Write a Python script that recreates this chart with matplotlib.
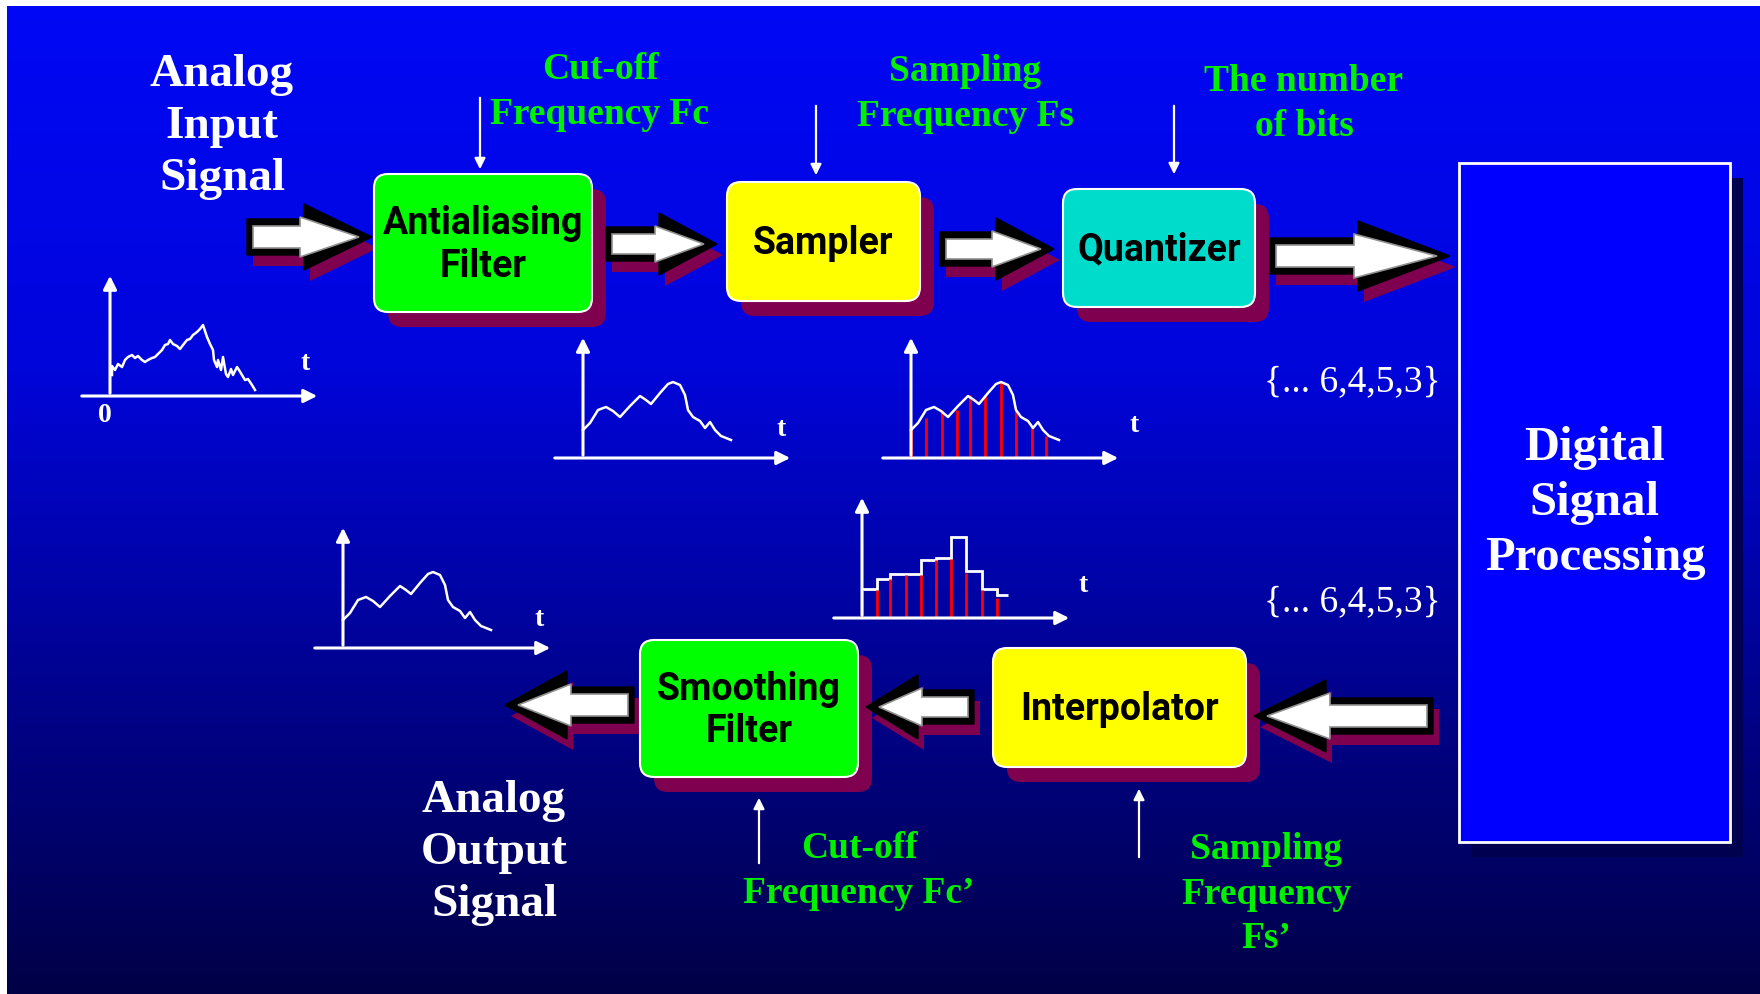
import matplotlib
matplotlib.use("Agg")
import matplotlib.pyplot as plt
from matplotlib.patches import FancyBboxPatch, Polygon, Rectangle
import numpy as np

W, H = 1760, 994

# ---- data (t, amplitude above the time axis) ----
noisy_t = [2, 2, 5, 8, 12, 15, 18, 22, 25, 28, 32, 35, 38, 42, 45, 48, 52, 55, 58, 60,
           63, 67, 70, 73, 77, 80, 83, 87, 90, 93, 97, 100, 103, 104, 107, 108, 111, 113,
           116, 118, 121, 123, 127, 129, 132, 135, 138, 142, 145]
noisy_v = [21, 30, 26, 32, 29, 36, 39, 41, 38, 40, 36, 34, 36, 38, 39, 42, 46, 51, 52, 56,
           52, 50, 47, 51, 56, 57, 61, 64, 67, 71, 59, 52, 46, 36, 29, 36, 26, 39,
           22, 19, 27, 21, 29, 26, 21, 16, 17, 11, 6]

smooth_t = [0, 7, 15, 23, 30, 37, 47, 57, 63, 68, 77, 85, 90, 97, 102, 105, 110, 117,
            122, 127, 132, 138, 148]
smooth_v = [28, 35, 48, 51, 47, 41, 52, 62, 58, 54, 65, 74, 76, 73, 63, 48, 41, 37,
            30, 36, 28, 22, 18]

sample_t = [0, 15, 31, 46, 59, 74, 90, 105, 121, 135]
sample_v = [29, 40, 48, 48, 63, 63, 76, 48, 32, 22]

hold_edges = [0, 15, 28, 44, 59, 74, 89, 104, 120, 135, 146]
hold_levels = [29, 39, 44, 44, 58, 60, 81, 47, 29, 23]
hold_stem_t = [0, 15, 28, 44, 59, 74, 89, 104, 120, 135]
hold_stem_v = [28, 28, 39, 43, 43, 58, 59, 45, 28, 20]

digits = "{... 6,4,5,3}"

SERIF = "Liberation Serif"
BOXFONT = "Roboto"
GREEN = "#00f000"
MAROON = "#800050"

fig = plt.figure(figsize=(17.6, 9.94), dpi=100)
ax = fig.add_axes([0, 0, 1, 1])
ax.set_xlim(0, W)
ax.set_ylim(H, 0)
ax.axis("off")

# background gradient (bright blue at top -> navy at bottom)
rows = np.arange(H)
blue = np.interp(rows, [0, 350, 650, 994], [245, 220, 150, 70]) / 255
grad = np.zeros((H, 1, 3))
grad[:, 0, 2] = blue
grad[:, 0, 1] = np.interp(rows, [0, 994], [8, 0]) / 255
ax.imshow(grad, extent=(7, W, H, 6), aspect="auto", origin="upper", zorder=0)


def box(x0, y0, x1, y1, color, label):
    sh = FancyBboxPatch((x0 + 14, y0 + 15), x1 - x0, y1 - y0,
                        boxstyle="round,pad=0,rounding_size=14",
                        fc=MAROON, ec="none", zorder=2)
    ax.add_patch(sh)
    b = FancyBboxPatch((x0, y0), x1 - x0, y1 - y0,
                       boxstyle="round,pad=0,rounding_size=14",
                       fc=color, ec="white", lw=1.5, zorder=4)
    ax.add_patch(b)
    ax.text((x0 + x1) / 2, (y0 + y1) / 2 + 2, label, ha="center", va="center",
            fontsize=27, fontweight="bold", family=BOXFONT, color="black",
            linespacing=1.2, zorder=5)


def arrow_pts(tail, tip, y, hl, sh, hh):
    d = 1 if tip > tail else -1
    base = tip - d * hl
    return [(tail, y - sh), (base, y - sh), (base, y - hh), (tip, y),
            (base, y + hh), (base, y + sh), (tail, y + sh)]


def block_arrow(tail, tip, y, hl=62, sh=18, hh=33):
    d = 1 if tip > tail else -1
    ax.add_patch(Polygon([(px + 6, py + 11) for px, py in arrow_pts(tail, tip, y, hl, sh, hh)],
                         closed=True, fc=MAROON, ec="none", zorder=3))
    ax.add_patch(Polygon(arrow_pts(tail, tip, y, hl, sh, hh), closed=True,
                         fc="black", ec="black", lw=1, zorder=6))
    ax.add_patch(Polygon(arrow_pts(tail + d * 6, tip - d * 13, y, hl - 9, sh - 7, hh - 13),
                         closed=True, fc="white", ec="#909090", lw=1.2, zorder=7))


def thin_arrow(x, y_from, y_to):
    ax.annotate("", xy=(x, y_to), xytext=(x, y_from),
                arrowprops=dict(arrowstyle="-|>", color="white", lw=1.6,
                                mutation_scale=16), zorder=5)


# processing blocks
box(374, 174, 592, 312, "#00ff00", "Antialiasing\nFilter")
box(727, 182, 920, 301, "#ffff00", "Sampler")
box(1063, 189, 1255, 307, "#00dccb", "Quantizer")
box(993, 648, 1246, 767, "#ffff00", "Interpolator")
box(640, 640, 858, 777, "#00ff00", "Smoothing\nFilter")

# DSP block
ax.add_patch(Rectangle((1472, 178), 271, 679, fc="#000050", ec="none", zorder=2))
ax.add_patch(Rectangle((1459, 163), 271, 679, fc="#0000ff", ec="white", lw=2, zorder=4))
ax.text(1595, 503, "Digital\nSignal\nProcessing", ha="center", va="center",
        fontsize=35, fontweight="bold", family=SERIF, color="white",
        linespacing=1.33, zorder=5)

# flow arrows
block_arrow(247, 372, 237, hl=68, sh=18, hh=33)
block_arrow(606, 717, 244, hl=58, sh=17, hh=31)
block_arrow(940, 1054, 249, hl=58, sh=17, hh=31)
block_arrow(1270, 1450, 256, hl=92, sh=18, hh=35)
block_arrow(1433, 1254, 716, hl=72, sh=18, hh=36)
block_arrow(974, 866, 707, hl=52, sh=17, hh=32)
block_arrow(634, 505, 705, hl=62, sh=18, hh=34)

# parameter arrows
thin_arrow(480, 95, 172)
thin_arrow(816, 103, 178)
thin_arrow(1174, 103, 177)
thin_arrow(759, 866, 795)
thin_arrow(1139, 860, 786)

# labels
ax.text(222, 127, "Analog\nInput\nSignal", ha="center", va="center", fontsize=34,
        fontweight="bold", family=SERIF, color="white", linespacing=1.3)
ax.text(494, 853, "Analog\nOutput\nSignal", ha="center", va="center", fontsize=34,
        fontweight="bold", family=SERIF, color="white", linespacing=1.3)

gkw = dict(ha="center", va="center", fontsize=27, fontweight="bold", family=SERIF,
           color=GREEN, linespacing=1.35)
ax.text(600, 92, "Cut-off\nFrequency Fc", **gkw)
ax.text(965, 94, "Sampling\nFrequency Fs", **gkw)
ax.text(1304, 104, "The number\nof bits", **gkw)
ax.text(859, 871, "Cut-off\nFrequency Fc\u2019", **gkw)
ax.text(1266, 894, "Sampling\nFrequency\nFs\u2019", **gkw)

for yy in (382, 602):
    ax.text(1352, yy, digits, ha="center", va="center", fontsize=27,
            family=SERIF, color="white")


# small signal sketches
def mini(ox, oy, t_pos, zero=False):
    a = fig.add_axes([(ox - 45) / W, 1 - (oy + 30) / H, 285 / W, 165 / H])
    a.set_xlim(-45, 240)
    a.set_ylim(-30, 135)
    a.axis("off")
    a.patch.set_alpha(0)
    a.annotate("", xy=(210, 0), xytext=(-31, 0),
               arrowprops=dict(arrowstyle="-|>", color="white", lw=2.2, mutation_scale=20))
    a.annotate("", xy=(0, 123), xytext=(0, 0),
               arrowprops=dict(arrowstyle="-|>", color="white", lw=2.2, mutation_scale=20))
    a.text(t_pos[0], t_pos[1], "t", ha="center", va="center", fontsize=20,
           fontweight="bold", family=SERIF, color="white")
    if zero:
        a.text(-5, -19, "0", ha="center", va="center", fontsize=20,
               fontweight="bold", family=SERIF, color="white")
    return a


a1 = mini(110, 396, (195, 32), zero=True)
a1.plot(noisy_t, noisy_v, color="white", lw=1.8)

a2 = mini(583, 458, (198, 28))
a2.plot(smooth_t, smooth_v, color="white", lw=1.8)

a3 = mini(911, 458, (223, 33))
a3.vlines(sample_t, 0, sample_v, color="red", lw=2)
a3.plot(smooth_t, smooth_v, color="white", lw=1.8)

a4 = mini(862, 618, (221, 33))
a4.vlines(hold_stem_t, 0, hold_stem_v, color="red", lw=2)
a4.stairs(hold_levels, hold_edges, color="white", lw=2, baseline=None)

a5 = mini(343, 648, (196, 28))
a5.plot(smooth_t, smooth_v, color="white", lw=1.8)

fig.savefig("out.png", dpi=100)
